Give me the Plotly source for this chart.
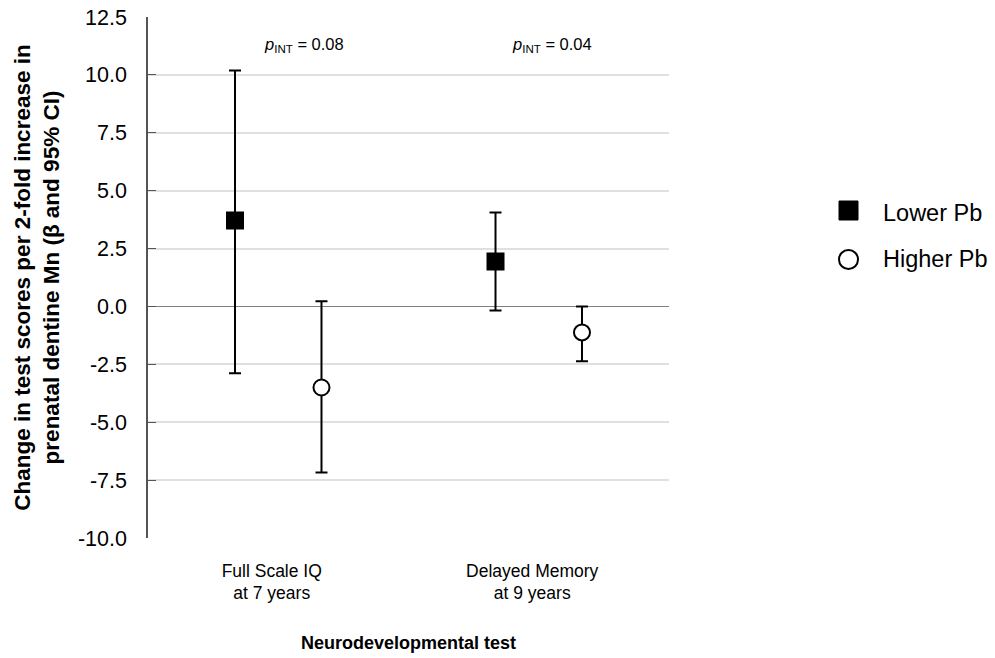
import plotly.graph_objects as go

categories = ["Full Scale IQ<br>at 7 years", "Delayed Memory<br>at 9 years"]
series_names = ["Lower Pb", "Higher Pb"]
lower_beta = [3.71, 1.94]
lower_hi = [10.19, 4.06]
lower_lo = [-2.89, -0.17]
higher_beta = [-3.50, -1.12]
higher_hi = [0.22, 0.00]
higher_lo = [-7.17, -2.37]
p_labels = ["0.08", "0.04"]
y_ticks = [12.5, 10.0, 7.5, 5.0, 2.5, 0.0, -2.5, -5.0, -7.5, -10.0]

centers = [0.5, 1.5]
offset = 0.166
annot_shift = [0.10, 0.05]
font = "Liberation Sans, Arial, sans-serif"

W, H = 995, 658
L, R, T, B = 148, 326, 17, 120
PW, PH = W - L - R, H - T - B

def px_x(p):
    return (p - L) / PW

def px_y(p):
    return (H - B - p) / PH

fig = go.Figure()

def add_series(name, beta, hi, lo, sign, symbol, fill, size):
    xs = [c + sign * offset for c in centers]
    fig.add_trace(go.Scatter(
        x=xs, y=beta, mode="markers", name=name, showlegend=False,
        marker=dict(symbol=symbol, size=size, color=fill,
                    line=dict(color="black", width=2)),
        error_y=dict(type="data", symmetric=False,
                     array=[h - b for h, b in zip(hi, beta)],
                     arrayminus=[b - l for l, b in zip(lo, beta)],
                     color="black", thickness=2, width=6),
    ))

add_series(series_names[0], lower_beta, lower_hi, lower_lo, -1, "square", "black", 16)
add_series(series_names[1], higher_beta, higher_hi, higher_lo, 1, "circle", "white", 16)

for c, s, p in zip(centers, annot_shift, p_labels):
    fig.add_annotation(x=c + s, y=11.3, xref="x", yref="y",
                       text="<i>p</i><sub>INT</sub> = " + p, showarrow=False,
                       font=dict(family=font, size=16.5, color="black"))

# legend (drawn in paper coordinates)
fig.add_shape(type="rect", xref="paper", yref="paper",
              x0=px_x(839), x1=px_x(858), y0=px_y(220), y1=px_y(201),
              fillcolor="black", line=dict(color="black", width=1))
fig.add_shape(type="circle", xref="paper", yref="paper",
              x0=px_x(839), x1=px_x(858), y0=px_y(269), y1=px_y(250),
              fillcolor="white", line=dict(color="black", width=2))
for name, yc in zip(series_names, [213, 259]):
    fig.add_annotation(x=px_x(881), y=px_y(yc), xref="paper", yref="paper",
                       xanchor="left", yanchor="middle", text=name, showarrow=False,
                       font=dict(family=font, size=23.5, color="black"))

fig.update_layout(
    width=W, height=H,
    margin=dict(l=L, r=R, t=T, b=B),
    plot_bgcolor="white", paper_bgcolor="white",
    showlegend=False,
    xaxis=dict(range=[0, 2], tickvals=[c - 0.025 for c in centers], ticktext=categories,
               showgrid=False, zeroline=False, showline=False, ticks="",
               automargin=False, ticklabelstandoff=20,
               tickfont=dict(family=font, size=17.5, color="black"),
               title=dict(text="<b>Neurodevelopmental test</b>", standoff=34,
                          font=dict(family=font, size=18, color="black"))),
    yaxis=dict(range=[-10, 12.5], tickvals=y_ticks,
               ticktext=[f"{v:.1f}" for v in y_ticks],
               showgrid=True, gridcolor="#e0e0e0", gridwidth=1.5,
               zeroline=True, zerolinecolor="#808080", zerolinewidth=1.2,
               showline=True, linecolor="#555555", linewidth=1.5,
               ticks="inside", ticklen=8, tickcolor="#555555",
               automargin=False, ticklabelstandoff=15,
               tickfont=dict(family=font, size=21.5, color="black"),
               title=dict(text="<b>Change in test scores per 2-fold increase in<br>prenatal dentine Mn (β and 95% CI)</b>",
                          standoff=12,
                          font=dict(family=font, size=22.5, color="black"))),
)

fig.write_html("out.html", config={"displayModeBar": False},
               post_script="document.body.style.margin='0';")
